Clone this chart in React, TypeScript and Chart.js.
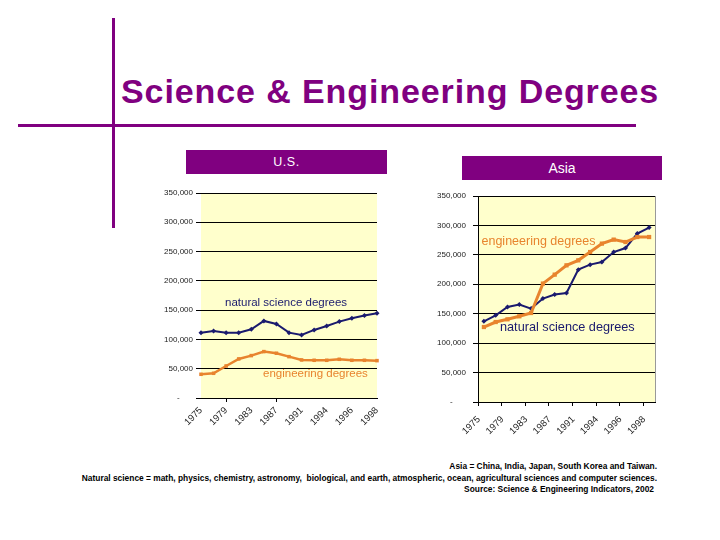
import React, { useEffect, useRef } from 'react';
import { Chart, registerables } from 'chart.js';

Chart.register(...registerables);

// ---- data ----
const years = ['1975', '1977', '1979', '1981', '1983', '1985', '1987', '1989', '1991', '1993', '1994', '1995', '1996', '1997', '1998'];
const usNatural = [111600, 114500, 111600, 111600, 117400, 131600, 126500, 111600, 107700, 116200, 123000, 130400, 136200, 140700, 144800];
const usEngineering = [40500, 42200, 54700, 66700, 72400, 79200, 76400, 70600, 65000, 64400, 64400, 66100, 64400, 64400, 63800];
const asiaNatural = [137100, 147300, 161400, 165500, 158700, 175700, 182500, 185200, 224900, 233400, 237900, 254800, 261600, 286100, 296300];
const asiaEngineering = [127400, 135900, 140500, 145600, 151200, 201200, 216400, 232200, 240700, 254800, 269100, 275900, 271800, 280300, 280300];
const yTicks = [0, 50000, 100000, 150000, 200000, 250000, 300000, 350000];

const NAVY = '#1a1a6e';
const ORANGE = '#e8842e';
const PURPLE = '#800080';
const FONT = 'Arial, "Liberation Sans", sans-serif';

const plotBg = {
  id: 'plotBg',
  beforeDraw(chart: any, _args: any, opts: any) {
    const { ctx, chartArea: a } = chart;
    ctx.save();
    ctx.fillStyle = opts.color;
    ctx.fillRect(a.left, a.top, a.right - a.left, a.bottom - a.top);
    ctx.restore();
  },
  afterDraw(chart: any, _args: any, opts: any) {
    if (!opts.rightBorder) return;
    const { ctx, chartArea: a } = chart;
    ctx.save();
    ctx.strokeStyle = opts.rightBorder;
    ctx.lineWidth = 1;
    ctx.beginPath();
    ctx.moveTo(a.right + 0.5, a.top);
    ctx.lineTo(a.right + 0.5, a.bottom);
    ctx.stroke();
    ctx.restore();
  },
};

function fmt(v: number) {
  if (v === 0) return '-      ';
  return String(v).replace(/\B(?=(\d{3})+(?!\d))/g, ',');
}

function makeConfig(p: any): any {
  return {
    type: 'line',
    data: {
      labels: years,
      datasets: [
        {
          data: p.eng,
          borderColor: ORANGE,
          backgroundColor: ORANGE,
          borderWidth: p.engWidth,
          pointStyle: 'rect',
          pointRadius: p.engPoint,
          pointBorderWidth: 0,
          tension: 0,
        },
        {
          data: p.nat,
          borderColor: NAVY,
          backgroundColor: NAVY,
          borderWidth: 2,
          pointStyle: 'rectRot',
          pointRadius: 2.5,
          pointBorderWidth: 0,
          tension: 0,
        },
      ],
    },
    options: {
      animation: false,
      responsive: false,
      maintainAspectRatio: false,
      devicePixelRatio: 1,
      layout: { padding: { top: p.padTop, right: p.padRight, left: 0, bottom: 0 } },
      plugins: {
        legend: { display: false },
        tooltip: { enabled: false },
        plotBg: { color: '#ffffcc', rightBorder: p.rightBorder },
      },
      scales: {
        x: {
          type: 'category',
          offset: p.offset,
          afterFit(scale: any) { scale.height = p.xHeight; },
          border: { display: true, color: '#000', width: 1 },
          grid: {
            offset: p.offset,
            drawOnChartArea: false,
            drawTicks: true,
            tickLength: 4,
            color: (ctx: any) => (p.tickIdx(ctx.index) ? '#000' : 'rgba(0,0,0,0)'),
          },
          ticks: {
            autoSkip: false,
            minRotation: 45,
            maxRotation: 45,
            labelOffset: p.labelOffset,
            padding: p.xPad,
            color: '#222',
            font: { family: FONT, size: 9.5 },
            callback: (_v: any, i: number) => (i % 2 === 0 ? years[i] : ''),
          },
        },
        y: {
          min: 0,
          max: 350000,
          afterFit(scale: any) { scale.width = p.yWidth; },
          afterBuildTicks(scale: any) { scale.ticks = yTicks.map((v) => ({ value: v })); },
          border: { display: p.yBorder, color: '#000', width: 1 },
          grid: { color: '#000', lineWidth: 1, drawTicks: true, tickLength: 5, tickColor: '#000' },
          ticks: {
            padding: p.yPad,
            color: '#222',
            font: { family: FONT, size: 8 },
            callback: (v: any) => fmt(Number(v)),
          },
        },
      },
    },
    plugins: [plotBg],
  };
}

function ChartCanvas(props: { left: number; top: number; width: number; height: number; cfg: any }) {
  const ref = useRef<HTMLCanvasElement | null>(null);
  useEffect(() => {
    if (!ref.current) return;
    const chart = new Chart(ref.current, props.cfg);
    return () => chart.destroy();
  }, []);
  return (
    <canvas
      ref={ref}
      width={props.width}
      height={props.height}
      style={{ position: 'absolute', left: props.left, top: props.top, width: props.width, height: props.height }}
    />
  );
}

const abs = (s: any) => ({ position: 'absolute', ...s });

export default function App() {
  const usCfg = makeConfig({
    nat: usNatural,
    eng: usEngineering,
    engWidth: 2.5,
    engPoint: 2.5,
    offset: false,
    padTop: 13,
    padRight: 13,
    xHeight: 52,
    xPad: 3,
    yWidth: 51,
    yBorder: false,
    yPad: 3,
    labelOffset: 0,
    rightBorder: null,
    tickIdx: (i: number) => i === 2 || i === 6,
  });
  const asiaCfg = makeConfig({
    nat: asiaNatural,
    eng: asiaEngineering,
    engWidth: 3,
    engPoint: 3,
    offset: true,
    padTop: 16,
    padRight: 15,
    xHeight: 48,
    xPad: 8,
    yWidth: 58,
    yBorder: true,
    yPad: 7,
    labelOffset: -5,
    rightBorder: '#999',
    tickIdx: (i: number) => i % 2 === 0 && i < 15,
  });

  return (
    <div style={{ position: 'fixed', left: 0, top: 0, width: 720, height: 540, background: '#fff', fontFamily: FONT, overflow: 'hidden' }}>
      <div style={abs({ left: 112, top: 18, width: 3, height: 210, background: PURPLE })} />
      <div style={abs({ left: 18, top: 124, width: 618, height: 3, background: PURPLE })} />
      <div style={abs({ left: 121, top: 73.5, fontSize: 34, lineHeight: '34px', fontWeight: 'bold', color: PURPLE, letterSpacing: '0.9px', whiteSpace: 'nowrap' })}>
        Science &amp; Engineering Degrees
      </div>
      <div style={abs({ left: 186, top: 150, width: 201, height: 24, background: PURPLE, color: '#fff', fontSize: 12.5, lineHeight: '24px', textAlign: 'center', letterSpacing: '0.5px' })}>
        U.S.
      </div>
      <div style={abs({ left: 462, top: 156, width: 200, height: 24, background: PURPLE, color: '#fff', fontSize: 14, lineHeight: '25px', textAlign: 'center' })}>
        Asia
      </div>

      <ChartCanvas left={150} top={180} width={240} height={270} cfg={usCfg} />
      <ChartCanvas left={420} top={180} width={250} height={270} cfg={asiaCfg} />

      <div style={abs({ left: 225, top: 295.5, fontSize: 11.5, lineHeight: '12px', color: NAVY, whiteSpace: 'nowrap' })}>natural science degrees</div>
      <div style={abs({ left: 263, top: 366.5, fontSize: 11.5, lineHeight: '12px', color: ORANGE, whiteSpace: 'nowrap' })}>engineering degrees</div>
      <div style={abs({ left: 481.5, top: 235, fontSize: 12.5, lineHeight: '13px', color: ORANGE, whiteSpace: 'nowrap' })}>engineering degrees</div>
      <div style={abs({ left: 500, top: 321, fontSize: 12.7, lineHeight: '13px', color: NAVY, whiteSpace: 'nowrap' })}>natural science degrees</div>

      <div style={abs({ right: 63, top: 461, fontSize: 8.4, lineHeight: '11.5px', fontWeight: 'bold', color: '#000', textAlign: 'right', whiteSpace: 'nowrap' })}>
        <div>Asia = China, India, Japan, South Korea and Taiwan.</div>
        <div>Natural science = math, physics, chemistry, astronomy,&nbsp; biological, and earth, atmospheric, ocean, agricultural sciences and computer sciences.</div>
        <div style={{ paddingRight: 3 }}>Source: Science &amp; Engineering Indicators, 2002</div>
      </div>
    </div>
  );
}
